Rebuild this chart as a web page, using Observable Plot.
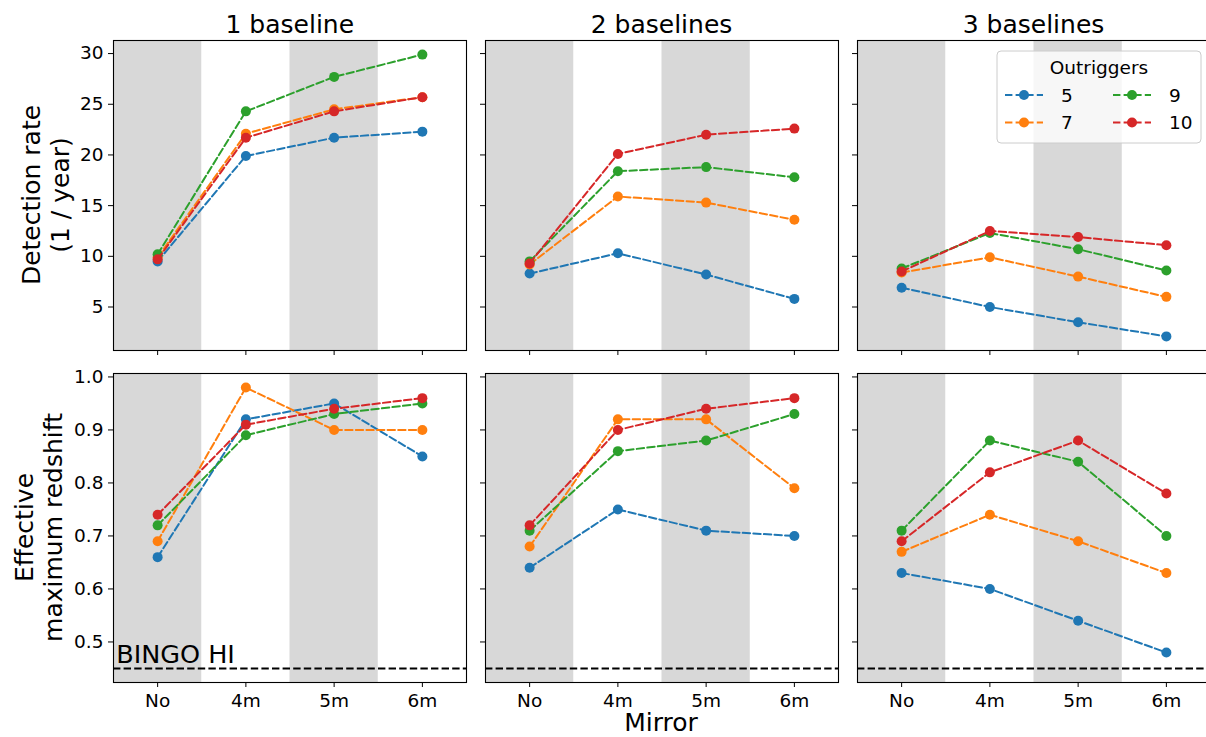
<!DOCTYPE html>
<html><head><meta charset="utf-8">
<script src="https://cdn.jsdelivr.net/npm/d3@7"></script>
<script src="https://cdn.jsdelivr.net/npm/@observablehq/plot@0.6"></script>
<style>
body{margin:0;background:white;font-family:"DejaVu Sans",sans-serif;}
#fig{position:relative;width:1206px;height:737px;overflow:hidden;background:white;}
#fig > svg{position:absolute;}
</style></head><body><div id="fig"></div>
<script>
// ---- data ----
const mirrors = ["No", "4m", "5m", "6m"];
const shadedMirrors = ["No", "5m"];
const outriggers = ["5", "7", "9", "10"];
const colors = ["#1f77b4", "#ff7f0e", "#2ca02c", "#d62728"];
const baselineTitles = ["1 baseline", "2 baselines", "3 baselines"];
const rowLabels = [["Detection rate", "(1 / year)"], ["Effective", "maximum redshift"]];
const xLabel = "Mirror";
const legendTitle = "Outriggers";
// detection rate (1/year); rows = outriggers 5, 7, 9, 10; cols = No, 4m, 5m, 6m
const rate1b = [[9.5, 19.9, 21.7, 22.3], [9.9, 22.1, 24.5, 25.7], [10.2, 24.3, 27.7, 29.9], [9.7, 21.7, 24.3, 25.7]];
const rate2b = [[8.3, 10.3, 8.2, 5.8], [9.2, 15.9, 15.3, 13.6], [9.5, 18.4, 18.8, 17.8], [9.3, 20.1, 22.0, 22.6]];
const rate3b = [[6.9, 5.0, 3.5, 2.1], [8.4, 9.9, 8.0, 6.0], [8.8, 12.3, 10.7, 8.6], [8.5, 12.5, 11.9, 11.1]];
// effective maximum redshift
const zmax1b = [[0.66, 0.92, 0.95, 0.85], [0.69, 0.98, 0.90, 0.90], [0.72, 0.89, 0.93, 0.95], [0.74, 0.91, 0.94, 0.96]];
const zmax2b = [[0.64, 0.75, 0.71, 0.70], [0.68, 0.92, 0.92, 0.79], [0.71, 0.86, 0.88, 0.93], [0.72, 0.90, 0.94, 0.96]];
const zmax3b = [[0.63, 0.60, 0.54, 0.48], [0.67, 0.74, 0.69, 0.63], [0.71, 0.88, 0.84, 0.70], [0.69, 0.82, 0.88, 0.78]];
const bingoZ = 0.45;
const bingoLabel = "BINGO HI";
const rateTicks = [5, 10, 15, 20, 25, 30];
const zTicks = [0.5, 0.6, 0.7, 0.8, 0.9, 1.0];

// ---- layout ----
const fig = document.getElementById("fig");
const frameLeft = [113.3, 485, 857];
const frameW = 353;
const frameTop = [40, 373];
const frameH = [310, 309];
const mL = 60, mR = 2, mT = 2, mB = 40;
const dash = "7.4,3.2";
const FONT = "DejaVu Sans";
const bigFont = 25;

const rows = [
  {sets: [rate1b, rate2b, rate3b], domain: [0.71, 31.29], ticks: rateTicks, fmt: d => String(d)},
  {sets: [zmax1b, zmax2b, zmax3b], domain: [0.4235, 1.0065], ticks: zTicks, fmt: d3.format(".1f")}
];

rows.forEach((row, r) => {
  row.sets.forEach((set, c) => {
    const marks = [];
    const shadedIdx = shadedMirrors.map(m => mirrors.indexOf(m));
    marks.push(Plot.rect(shadedIdx, {x1: i => i - 0.5, x2: i => i + 0.5, y1: () => row.domain[0], y2: () => row.domain[1], fill: "#d8d8d8"}));
    if (r === 1) {
      marks.push(Plot.ruleY([bingoZ], {stroke: "black", strokeWidth: 2, strokeDasharray: dash}));
      if (c === 0) {
        marks.push(Plot.text([bingoLabel], {x: () => -0.47, y: () => bingoZ, text: d => d, textAnchor: "start", lineAnchor: "bottom", dy: -5, fontSize: 25.5, fill: "black"}));
      }
    }
    set.forEach((vals, k) => {
      const pts = vals.map((v, i) => ({m: i, v}));
      marks.push(Plot.line(pts, {x: "m", y: "v", stroke: colors[k], strokeWidth: 2, strokeDasharray: dash}));
      marks.push(Plot.dot(pts, {x: "m", y: "v", r: 5, fill: colors[k], stroke: "none"}));
    });
    marks.push(Plot.frame({stroke: "black", strokeWidth: 1.1}));
    const svg = Plot.plot({
      width: mL + frameW + mR,
      height: mT + frameH[r] + mB,
      marginLeft: mL, marginRight: mR, marginTop: mT, marginBottom: mB,
      x: {domain: [-0.5, 3.5], ticks: [0, 1, 2, 3], tickFormat: r === 1 ? (i => mirrors[i]) : (() => ""), label: null, tickSize: 5, tickPadding: 6},
      y: {domain: row.domain, ticks: row.ticks, tickFormat: c === 0 ? row.fmt : (() => ""), label: null, tickSize: 5, tickPadding: 5},
      style: {fontSize: "18.5px", fontFamily: FONT, color: "black", background: "transparent", overflow: "visible", maxWidth: "none"},
      marks
    });
    svg.style.left = (frameLeft[c] - mL) + "px";
    svg.style.top = (frameTop[r] - mT) + "px";
    fig.appendChild(svg);
  });
});

// ---- overlay: titles, labels, legend ----
const NS = "http://www.w3.org/2000/svg";
const ov = document.createElementNS(NS, "svg");
ov.setAttribute("width", 1206); ov.setAttribute("height", 737);
ov.style.left = "0px"; ov.style.top = "0px"; ov.style.pointerEvents = "none";
fig.appendChild(ov);
function el(tag, attrs, text) {
  const e = document.createElementNS(NS, tag);
  for (const k in attrs) e.setAttribute(k, attrs[k]);
  if (text != null) e.textContent = text;
  ov.appendChild(e);
  return e;
}
const tstyle = {"font-family": FONT, fill: "black"};
baselineTitles.forEach((t, c) => {
  el("text", {...tstyle, x: frameLeft[c] + frameW / 2, y: 33, "text-anchor": "middle", "font-size": bigFont}, t);
});
el("text", {...tstyle, x: 661, y: 731, "text-anchor": "middle", "font-size": bigFont}, xLabel);
const ylabX = [[40, 69], [33, 62]];
rowLabels.forEach((lines, r) => {
  const cy = frameTop[r] + frameH[r] / 2;
  lines.forEach((t, j) => {
    const x = ylabX[r][j];
    el("text", {...tstyle, transform: `translate(${x},${cy}) rotate(-90)`, "text-anchor": "middle", "font-size": bigFont}, t);
  });
});
// legend
el("rect", {x: 997, y: 51, width: 204, height: 92, rx: 4, fill: "white", "fill-opacity": 0.8, stroke: "#cccccc", "stroke-width": 1});
el("text", {...tstyle, x: 1099, y: 74, "text-anchor": "middle", "font-size": 18.5}, legendTitle);
outriggers.forEach((o, k) => {
  const col = Math.floor(k / 2), rw = k % 2;
  const x0 = col === 0 ? 1005 : 1113;
  const y = rw === 0 ? 95 : 122.5;
  el("line", {x1: x0, x2: x0 + 38, y1: y, y2: y, stroke: colors[k], "stroke-width": 2, "stroke-dasharray": dash});
  el("circle", {cx: x0 + 19, cy: y, r: 5, fill: colors[k]});
  el("text", {...tstyle, x: x0 + 56, y: y + 6.7, "font-size": 18.5}, o);
});
</script>
</body></html>
